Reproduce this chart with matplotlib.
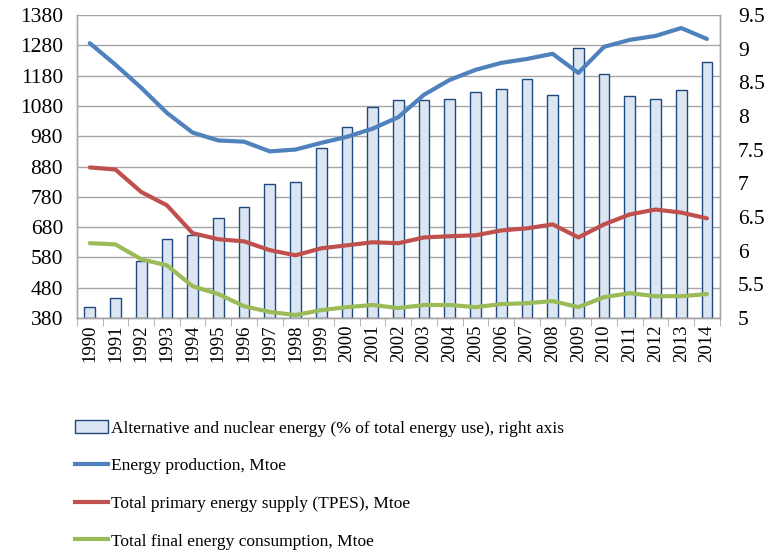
import numpy as np
import matplotlib.pyplot as plt
from matplotlib.patches import Patch
from matplotlib.lines import Line2D

plt.rcParams['font.family'] = ['Liberation Serif', 'DejaVu Serif']

# data
years = [str(y) for y in range(1990, 2015)]
production = [1287, 1216, 1140, 1057, 992, 966, 962, 930, 936, 958, 978, 1005, 1043,
              1117, 1166, 1199, 1222, 1235, 1252, 1189, 1275, 1298, 1311, 1337, 1301]
tpes = [877, 870, 796, 752, 660, 640, 633, 604, 587, 610, 620, 630, 627,
        646, 650, 653, 669, 676, 689, 646, 689, 722, 738, 728, 709]
tfc = [627, 623, 574, 554, 485, 459, 419, 400, 390, 406, 416, 423, 413,
       423, 423, 416, 426, 429, 436, 416, 449, 462, 452, 452, 459]
alt_nuclear = [5.17, 5.30, 5.84, 6.18, 6.23, 6.49, 6.65, 6.99, 7.02, 7.53, 7.84, 8.13, 8.24,
               8.24, 8.25, 8.36, 8.40, 8.55, 8.31, 9.01, 8.62, 8.30, 8.25, 8.39, 8.80]

left_ticks = list(range(380, 1381, 100))
right_ticks = [5, 5.5, 6, 6.5, 7, 7.5, 8, 8.5, 9, 9.5]
right_labels = ['5', '5.5', '6', '6.5', '7', '7.5', '8', '8.5', '9', '9.5']

c_blue = '#4F81BD'
c_red = '#C0504D'
c_green = '#9BBB59'
grid_c = '#A6A6A6'

fig = plt.figure(figsize=(7.69, 5.56), dpi=100)
ax = fig.add_axes([0.100, 0.428, 0.836, 0.545])
ax2 = ax.twinx()

x = np.arange(len(years))

# bars on the right axis, drawn behind lines
ax2.bar(x, np.array(alt_nuclear) - 5, bottom=5, width=0.42, color='#DCE6F2',
        edgecolor='#1F497D', linewidth=1.0, zorder=1)
ax2.set_ylim(5, 9.5)
ax2.set_yticks(right_ticks)
ax2.set_yticklabels(right_labels)

ax.set_zorder(ax2.get_zorder() + 1)
ax.patch.set_visible(False)

ax.plot(x, production, color=c_blue, lw=3, solid_capstyle='round', zorder=3)
ax.plot(x, tpes, color=c_red, lw=3, solid_capstyle='round', zorder=3)
ax.plot(x, tfc, color=c_green, lw=3, solid_capstyle='round', zorder=3)

ax.set_ylim(380, 1380)
ax.set_yticks(left_ticks)
ax.set_xlim(-0.5, len(years) - 0.5)
ax.set_xticks(x)
ax.set_xticklabels(years, rotation=90)
ax.set_xticks(np.arange(-0.5, len(years)), minor=True)
ax.tick_params(axis='x', which='major', length=0, pad=5, labelsize=13.5)
ax.tick_params(axis='x', which='minor', length=6, color=grid_c)
ax.tick_params(axis='y', length=0, labelsize=15.5, pad=10)
ax2.tick_params(axis='y', length=0, labelsize=15.5, pad=13)

# horizontal gridlines drawn on the bar axis so they sit behind the bars
for t in left_ticks:
    ax2.axhline(5 + (t - 380) / 1000 * 4.5, color=grid_c, lw=1, zorder=0)

for a in (ax, ax2):
    for s in a.spines.values():
        s.set_color(grid_c)
        s.set_linewidth(1)
    a.spines['top'].set_visible(False)

handles = [
    Patch(facecolor='#DCE6F2', edgecolor='#1F497D', linewidth=1.0),
    Line2D([], [], color=c_blue, lw=3),
    Line2D([], [], color=c_red, lw=3),
    Line2D([], [], color=c_green, lw=3),
]
labels = [
    'Alternative and nuclear energy (% of total energy use), right axis',
    'Energy production, Mtoe',
    'Total primary energy supply (TPES), Mtoe',
    'Total final energy consumption, Mtoe',
]
fig.legend(handles, labels, loc='upper left', bbox_to_anchor=(0.097, 0.244),
           frameon=False, fontsize=12.5, handlelength=1.9, handleheight=0.75,
           handletextpad=0.2, labelspacing=1.22, borderpad=0, borderaxespad=0)

fig.savefig('out.png', dpi=100)
